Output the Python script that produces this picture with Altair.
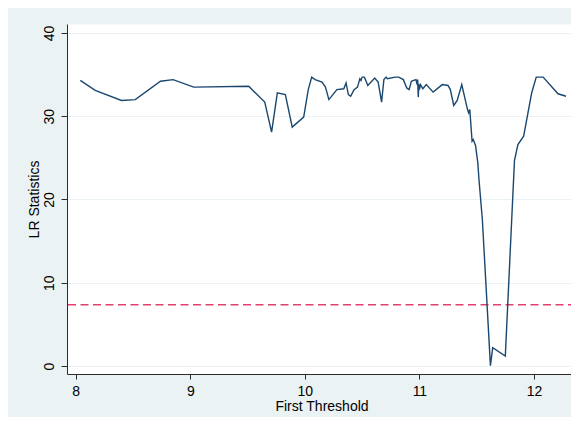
import altair as alt
import pandas as pd

# First threshold values and LR statistics
threshold = [8.04, 8.17, 8.40, 8.52, 8.74, 8.85, 9.03, 9.51, 9.65, 9.71,
             9.76, 9.83, 9.89, 9.99, 10.03, 10.06, 10.09, 10.15, 10.18, 10.21,
             10.28, 10.34, 10.36, 10.38, 10.40, 10.43, 10.46, 10.48, 10.49, 10.50,
             10.52, 10.55, 10.61, 10.64, 10.67, 10.69, 10.71, 10.72, 10.79, 10.82,
             10.86, 10.89, 10.91, 10.93, 10.95, 10.97, 10.98, 10.985, 10.99, 10.995,
             11.00, 11.01, 11.03, 11.06, 11.12, 11.20, 11.25, 11.27, 11.30, 11.33,
             11.37, 11.39, 11.42, 11.43, 11.44, 11.46, 11.47, 11.49, 11.51, 11.52,
             11.55, 11.62, 11.64, 11.75, 11.83, 11.86, 11.91, 11.98, 12.02, 12.08,
             12.21, 12.28]
lr_stat = [34.3, 33.1, 31.9, 32.0, 34.2, 34.4, 33.5, 33.6, 31.7, 28.1,
           32.8, 32.6, 28.7, 29.9, 33.2, 34.7, 34.4, 34.1, 33.5, 32.0,
           33.2, 33.3, 34.0, 32.6, 32.4, 33.2, 33.5, 34.5, 34.3, 34.7,
           34.7, 33.7, 34.6, 34.1, 31.7, 34.4, 34.7, 34.5, 34.7, 34.7,
           34.4, 33.4, 33.2, 34.2, 34.3, 34.4, 33.8, 34.4, 32.3, 33.9,
           33.2, 33.8, 33.3, 33.8, 32.9, 33.8, 33.7, 33.2, 31.3, 31.9,
           33.8, 32.6, 30.8, 30.4, 30.8, 27.0, 27.2, 26.5, 24.4, 22.4,
           17.5, 0.05, 2.2, 1.2, 24.7, 26.6, 27.6, 32.8, 34.7, 34.7,
           32.7, 32.4]
critical_value = [7.35]
x_ticks = [8, 9, 10, 11, 12]
y_ticks = [0, 10, 20, 30, 40]

df = pd.DataFrame({"x": threshold, "y": lr_stat})
crit = pd.DataFrame({"c": critical_value})

font = "Liberation Sans"

xscale = alt.Scale(domain=[7.924, 12.367], nice=False, zero=False)
yscale = alt.Scale(domain=[-0.96, 41.08], nice=False, zero=False)

line = alt.Chart(df).mark_line(color="#1a476f", strokeWidth=1.4, clip=True).encode(
    x=alt.X("x:Q", scale=xscale, title="First Threshold",
            axis=alt.Axis(values=x_ticks, grid=False, tickSize=5, labelPadding=5,
                          titlePadding=1, domainColor="#2b2b2b", tickColor="#2b2b2b",
                          labelFontSize=14, titleFontSize=14, labelFont=font,
                          titleFont=font, titleFontWeight="normal",
                          labelColor="black", titleColor="black")),
    y=alt.Y("y:Q", scale=yscale, title="LR Statistics",
            axis=alt.Axis(values=y_ticks, grid=True, gridColor="#EAF2F3",
                          gridWidth=1, tickSize=6, labelAngle=-90, labelPadding=5,
                          titlePadding=1, domainColor="#2b2b2b", tickColor="#2b2b2b",
                          labelFontSize=14, titleFontSize=14, labelFont=font,
                          titleFont=font, titleFontWeight="normal",
                          labelColor="black", titleColor="black")),
)

rule = alt.Chart(crit).mark_rule(color="#e0416d", strokeWidth=1.6,
                                 strokeDash=[8, 4.5]).encode(
    y=alt.Y("c:Q", scale=yscale)
)

chart = alt.layer(rule, line).properties(
    width=509, height=350,
    autosize=alt.AutoSizeParams(type="none"),
    padding={"left": 59, "top": 16, "right": -5, "bottom": 43},
    background="#EAF2F3",
).configure_view(fill="white", stroke="transparent")

chart.save("out.html", embed_options={"renderer": "svg", "actions": False})
